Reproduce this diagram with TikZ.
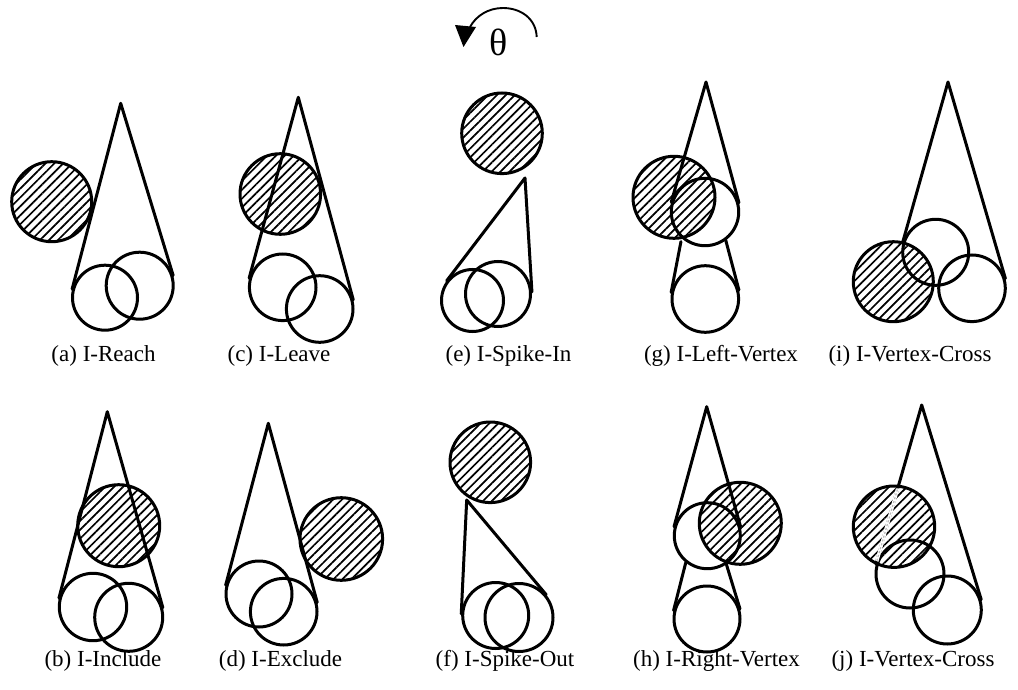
\documentclass[tikz,border=0pt]{standalone}
\usepackage{fontspec}
\newfontfamily\grkfont{Liberation Serif}
\newfontfamily\labfont{Liberation Serif}
\usetikzlibrary{calc,patterns.meta}
\newcommand\conelines[3]{%
  \draw[ln] (tangent cs:node=#2,point={(#1)},solution=1) -- (#1) -- (tangent cs:node=#3,point={(#1)},solution=2);}
\begin{document}
\begin{tikzpicture}[x=1pt,y=-1pt,
  ln/.style={line width=3pt,line cap=round,line join=round},
  hc/.style={circle,inner sep=0pt,draw,line width=3pt,
    pattern={Lines[angle=45,distance=6.3pt,line width=1.7pt]}},
  oc/.style={circle,inner sep=0pt,draw,line width=3pt},
  lab/.style={font=\labfont\fontsize{23}{26}\selectfont,anchor=center}]
\useasboundingbox (0,0) rectangle (1018,690);

% ---------- rotation symbol ----------
\node[font=\grkfont\fontsize{38}{38}\selectfont,inner sep=0pt] (th) at (499,42) {θ};
\coordinate (arcS) at (536.7,37);
\coordinate (arcT) at (503,8);
\coordinate (arcE) at (470,27);
\draw[line width=1.9pt] (arcS) .. controls (536,18) and (520,8) .. (arcT)
   .. controls (488,8) and (476,16) .. (arcE);
\fill (455,25) -- (476,27) -- (463.5,47) -- cycle;

% ---------- (a) I-Reach ----------
\node[hc,minimum size=80pt] (aH) at (51.7,201.7) {};
\node[oc,minimum size=65pt] (a1) at (105,297.7) {};
\node[oc,minimum size=67pt] (a2) at (139.7,285.7) {};
\coordinate (aA) at (120.7,103.3);
\conelines{aA}{a1}{a2}
\node[lab] (aL) at (103.5,356) {(a) I-Reach};

% ---------- (c) I-Leave ----------
\node[hc,minimum size=80.6pt] (cH) at (280.3,194) {};
\node[oc,minimum size=66.6pt] (c1) at (282.7,287.3) {};
\node[oc,minimum size=66.6pt] (c2) at (319.7,309) {};
\coordinate (cA) at (298.3,97.3);
\conelines{cA}{c1}{c2}
\node[lab] (cL) at (279,356) {(c) I-Leave};

% ---------- (e) I-Spike-In ----------
\node[hc,minimum size=80.6pt] (eH) at (502,133.3) {};
\node[oc,minimum size=62pt] (e1) at (472.5,300.5) {};
\node[oc,minimum size=65pt] (e2) at (498,294) {};
\coordinate (eA) at (525,178);
\conelines{eA}{e1}{e2}
\node[lab] (eL) at (508.5,356) {(e) I-Spike-In};

% ---------- (g) I-Left-Vertex ----------
\node[hc,minimum size=82pt] (gH) at (674,197.3) {};
\node[oc,minimum size=67.4pt] (g1) at (705,212) {};
\node[oc,minimum size=66.6pt] (g2) at (705.3,299) {};
\coordinate (gA) at (706,82);
\conelines{gA}{g1}{g1}
\coordinate (gV) at (700,143);
\coordinate (gTL) at (tangent cs:node=g2,point={(gV)},solution=1);
\coordinate (gTR) at (tangent cs:node=g2,point={(gV)},solution=2);
\draw[ln] ($(gV)!0.66!(gTL)$) -- (gTL);
\draw[ln] ($(gV)!0.66!(gTR)$) -- (gTR);
\node[lab] (gL) at (721,356) {(g) I-Left-Vertex};

% ---------- (i) I-Vertex-Cross ----------
\node[hc,minimum size=80pt] (iH) at (893.3,281.7) {};
\node[oc,minimum size=66pt] (i1) at (935.7,252.3) {};
\node[oc,minimum size=66.6pt] (i2) at (972,288.3) {};
\coordinate (iA) at (948,82);
\conelines{iA}{i1}{i2}
\node[lab] (iL) at (910,356) {(i) I-Vertex-Cross};

% ---------- (b) I-Include ----------
\node[hc,minimum size=82pt] (bH) at (118.7,525.7) {};
\node[oc,minimum size=67.4pt] (b1) at (93,607) {};
\node[oc,minimum size=68pt] (b2) at (128.7,617.3) {};
\coordinate (bA) at (107.3,411.7);
\conelines{bA}{b1}{b2}
\node[lab] (bL) at (103,661) {(b) I-Include};

% ---------- (d) I-Exclude ----------
\node[hc,minimum size=82.6pt] (dH) at (341.3,539) {};
\node[oc,minimum size=66pt] (d1) at (259,594) {};
\node[oc,minimum size=66.6pt] (d2) at (283.7,611.7) {};
\coordinate (dA) at (268.3,423.3);
\conelines{dA}{d1}{d2}
\node[lab] (dL) at (280.5,661) {(d) I-Exclude};

% ---------- (f) I-Spike-Out ----------
\node[hc,minimum size=80.6pt] (fH) at (490.3,462.3) {};
\node[oc,minimum size=66pt] (f1) at (495.7,615.5) {};
\node[oc,minimum size=68pt] (f2) at (519,617.5) {};
\coordinate (fA) at (466.7,500);
\conelines{fA}{f1}{f2}
\node[lab] (fL) at (505,661) {(f) I-Spike-Out};

% ---------- (h) I-Right-Vertex ----------
\node[hc,minimum size=82pt] (hH) at (740.3,523.3) {};
\node[oc,minimum size=66pt] (h1) at (707.3,535.7) {};
\node[oc,minimum size=66pt] (h2) at (707,619) {};
\coordinate (hA) at (706.7,406.7);
\conelines{hA}{h1}{h1}
\coordinate (hV) at (704,491);
\coordinate (hTL) at (tangent cs:node=h2,point={(hV)},solution=1);
\coordinate (hTR) at (tangent cs:node=h2,point={(hV)},solution=2);
\draw[ln] ($(hV)!0.6!(hTL)$) -- (hTL);
\draw[ln] ($(hV)!0.6!(hTR)$) -- (hTR);
\node[lab] (hL) at (716.5,661) {(h) I-Right-Vertex};

% ---------- (j) I-Vertex-Cross ----------
\node[hc,minimum size=81.4pt] (jH) at (894,526.7) {};
\node[oc,minimum size=68pt] (j1) at (910,574) {};
\node[oc,minimum size=68pt] (j2) at (947.3,610) {};
\coordinate (jA) at (921.7,405);
\coordinate (jT1) at (tangent cs:node=j1,point={(jA)},solution=1);
\conelines{jA}{j1}{j2}
\begin{scope}
  \clip (jH.center) circle (38.5pt);
  \draw[white,line width=3.4pt] (jA) -- (jT1);
  \draw[gray!55,line width=1.2pt,dash pattern=on 2pt off 2pt] (jA) -- (jT1);
\end{scope}
\node[lab] (jL) at (913,661) {(j) I-Vertex-Cross};
\end{tikzpicture}
\end{document}
